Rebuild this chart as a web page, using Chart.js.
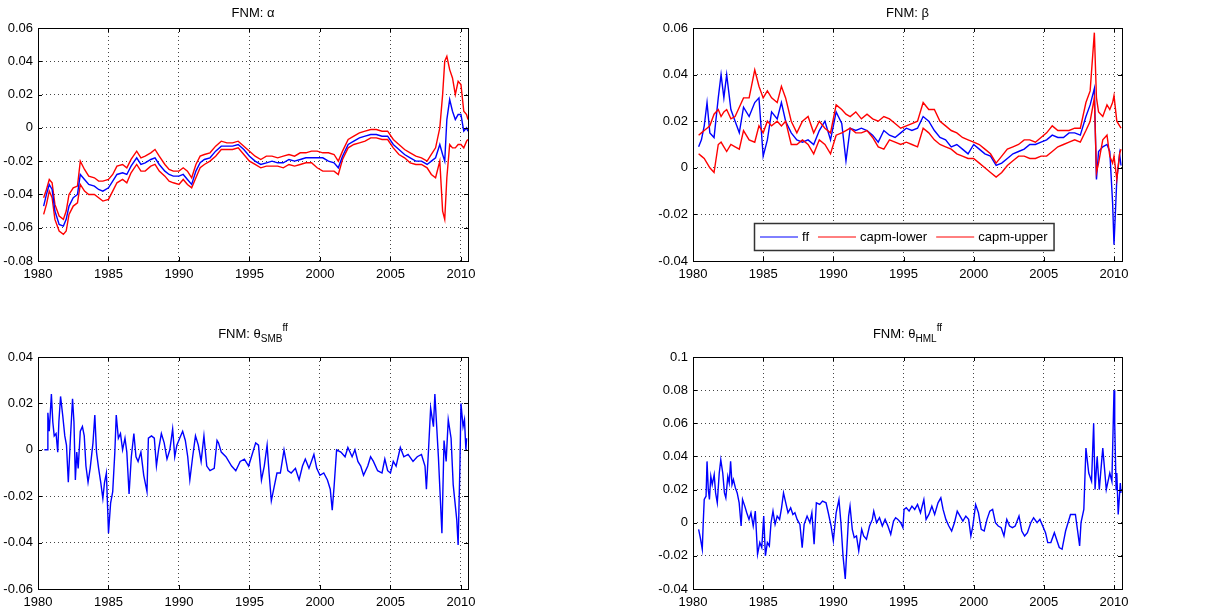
<!DOCTYPE html>
<html>
<head>
<meta charset="utf-8">
<script src="https://cdn.jsdelivr.net/npm/chart.js@4.4.1/dist/chart.umd.min.js"></script>
<style>
  body { margin: 0; background: #fff; }
  #fig { position: relative; width: 1222px; height: 612px; font-family: "Liberation Sans", Arial, sans-serif; }
  #fig canvas { position: absolute; }
  .title { position: absolute; text-align: center; font-size: 13px; line-height: 18px; color: #000; white-space: nowrap; }
  .title sub { font-size: 10px; vertical-align: -4px; line-height: 0; }
  .title sup { font-size: 10px; vertical-align: 7px; line-height: 0; }
</style>
</head>
<body>
<div id="fig">
  <canvas id="cAlpha" width="611" height="300" style="left:0;top:0"></canvas>
  <canvas id="cBeta" width="611" height="300" style="left:611px;top:0"></canvas>
  <canvas id="cSmb" width="611" height="312" style="left:0;top:300px"></canvas>
  <canvas id="cHml" width="611" height="312" style="left:611px;top:300px"></canvas>
  <div class="title" style="left:38px;width:430px;top:4px">FNM: α</div>
  <div class="title" style="left:693px;width:429px;top:4px">FNM: β</div>
  <div class="title" style="left:38px;width:430px;top:325px">FNM: θ<sub>SMB</sub><sup>ff</sup></div>
  <div class="title" style="left:693px;width:429px;top:325px">FNM: θ<sub>HML</sub><sup>ff</sup></div>
</div>
<script>
// x axis ticks shared by all four panels
const xTickValues = [1980, 1985, 1990, 1995, 2000, 2005, 2010];

// FNM: alpha (ff estimate with the capm band)
const alphaDates = [1980.4,1980.6,1980.8,1981.0,1981.2,1981.5,1981.8,1982.0,1982.2,1982.5,
  1982.8,1983.0,1983.3,1983.6,1984.0,1984.3,1984.6,1985.0,1985.3,1985.6,
  1986.0,1986.3,1986.6,1987.0,1987.3,1987.6,1988.0,1988.3,1988.6,1989.0,
  1989.3,1989.6,1990.0,1990.3,1990.6,1990.9,1991.2,1991.5,1991.8,1992.2,
  1992.6,1993.0,1993.4,1993.8,1994.2,1994.6,1995.0,1995.4,1995.8,1996.2,
  1996.6,1997.0,1997.4,1997.8,1998.2,1998.6,1999.0,1999.4,1999.8,2000.2,
  2000.6,2001.0,2001.3,2001.6,2002.0,2002.4,2002.8,2003.2,2003.6,2004.0,
  2004.4,2004.8,2005.2,2005.6,2006.0,2006.4,2006.8,2007.2,2007.6,2007.9,
  2008.2,2008.5,2008.7,2008.85,2009.0,2009.2,2009.4,2009.6,2009.8,2010.0,
  2010.2,2010.4,2010.5];
const alphaMid = [-0.047,-0.040,-0.034,-0.037,-0.050,-0.058,-0.059,-0.055,-0.047,-0.042,
  -0.040,-0.028,-0.031,-0.034,-0.035,-0.037,-0.038,-0.036,-0.032,-0.028,
  -0.027,-0.028,-0.023,-0.018,-0.022,-0.021,-0.019,-0.018,-0.022,-0.026,
  -0.028,-0.029,-0.029,-0.028,-0.031,-0.034,-0.026,-0.021,-0.019,-0.018,
  -0.014,-0.011,-0.011,-0.011,-0.010,-0.013,-0.017,-0.020,-0.022,-0.021,
  -0.020,-0.021,-0.021,-0.019,-0.020,-0.019,-0.018,-0.018,-0.018,-0.018,
  -0.020,-0.021,-0.024,-0.017,-0.010,-0.008,-0.006,-0.005,-0.004,-0.004,
  -0.005,-0.005,-0.010,-0.013,-0.016,-0.018,-0.020,-0.020,-0.022,-0.020,
  -0.018,-0.010,-0.016,-0.020,0.005,0.017,0.010,0.005,0.008,0.008,
  -0.002,0.000,-0.002];
const alphaUpper = [-0.042,-0.037,-0.031,-0.033,-0.046,-0.053,-0.055,-0.050,-0.040,-0.036,
  -0.035,-0.020,-0.025,-0.029,-0.030,-0.032,-0.032,-0.031,-0.028,-0.023,
  -0.022,-0.024,-0.019,-0.014,-0.018,-0.017,-0.015,-0.013,-0.017,-0.022,
  -0.025,-0.026,-0.026,-0.024,-0.026,-0.030,-0.022,-0.017,-0.016,-0.015,
  -0.011,-0.008,-0.009,-0.009,-0.008,-0.011,-0.014,-0.017,-0.019,-0.017,
  -0.017,-0.018,-0.017,-0.016,-0.017,-0.015,-0.015,-0.014,-0.014,-0.015,
  -0.015,-0.016,-0.020,-0.014,-0.007,-0.005,-0.003,-0.002,-0.001,-0.001,
  -0.002,-0.002,-0.007,-0.010,-0.013,-0.015,-0.017,-0.018,-0.020,-0.016,
  -0.012,0.000,0.020,0.040,0.043,0.035,0.030,0.020,0.028,0.026,
  0.010,0.008,0.005];
const alphaLower = [-0.052,-0.046,-0.038,-0.042,-0.055,-0.062,-0.064,-0.062,-0.052,-0.047,
  -0.045,-0.034,-0.038,-0.040,-0.040,-0.042,-0.044,-0.043,-0.038,-0.033,
  -0.031,-0.033,-0.027,-0.022,-0.026,-0.026,-0.023,-0.022,-0.026,-0.029,
  -0.032,-0.033,-0.034,-0.031,-0.034,-0.036,-0.030,-0.024,-0.022,-0.020,
  -0.017,-0.013,-0.013,-0.013,-0.012,-0.016,-0.020,-0.022,-0.024,-0.023,
  -0.023,-0.023,-0.024,-0.022,-0.023,-0.022,-0.021,-0.021,-0.024,-0.026,
  -0.026,-0.026,-0.028,-0.019,-0.012,-0.010,-0.009,-0.008,-0.006,-0.006,
  -0.007,-0.007,-0.012,-0.016,-0.018,-0.021,-0.022,-0.022,-0.024,-0.028,
  -0.030,-0.020,-0.050,-0.055,-0.030,-0.010,-0.012,-0.012,-0.010,-0.010,
  -0.012,-0.008,-0.007];
const alphaTicks = [-0.08, -0.06, -0.04, -0.02, 0, 0.02, 0.04, 0.06];

// FNM: beta
const betaDates = [1980.4,1980.6,1980.8,1981.0,1981.2,1981.5,1981.8,1982.0,1982.2,1982.4,
  1982.7,1983.0,1983.3,1983.6,1984.0,1984.4,1984.7,1985.0,1985.3,1985.6,
  1986.0,1986.3,1986.6,1987.0,1987.4,1987.8,1988.2,1988.6,1989.0,1989.4,
  1989.8,1990.2,1990.6,1990.9,1991.2,1991.6,1992.0,1992.4,1992.8,1993.2,
  1993.6,1994.0,1994.4,1994.8,1995.2,1995.6,1996.0,1996.4,1996.8,1997.2,
  1997.6,1998.0,1998.4,1998.8,1999.2,1999.6,2000.0,2000.4,2000.8,2001.2,
  2001.6,2002.0,2002.4,2002.8,2003.2,2003.6,2004.0,2004.4,2004.8,2005.2,
  2005.6,2006.0,2006.4,2006.8,2007.2,2007.6,2008.0,2008.3,2008.6,2008.75,
  2008.9,2009.2,2009.5,2009.7,2009.9,2010.0,2010.2,2010.4,2010.5];
const betaFF = [0.009,0.012,0.018,0.028,0.015,0.013,0.030,0.040,0.030,0.040,
  0.025,0.020,0.015,0.026,0.022,0.028,0.030,0.005,0.012,0.024,
  0.021,0.028,0.020,0.015,0.012,0.011,0.012,0.010,0.016,0.020,
  0.012,0.024,0.019,0.003,0.017,0.016,0.017,0.016,0.014,0.011,
  0.016,0.014,0.013,0.015,0.017,0.016,0.017,0.022,0.020,0.016,
  0.013,0.012,0.009,0.010,0.008,0.006,0.010,0.008,0.006,0.005,
  0.001,0.002,0.004,0.006,0.007,0.008,0.010,0.010,0.011,0.012,
  0.014,0.013,0.013,0.015,0.015,0.014,0.022,0.027,0.034,-0.005,
  0.007,0.009,0.010,0.007,-0.015,-0.033,-0.005,0.006,0.001];
const betaCapmLower = [0.006,0.005,0.004,0.002,0.000,-0.002,0.010,0.011,0.009,0.007,
  0.010,0.009,0.008,0.016,0.012,0.011,0.018,0.015,0.020,0.018,
  0.020,0.018,0.020,0.010,0.010,0.012,0.010,0.006,0.012,0.010,
  0.006,0.014,0.015,0.016,0.017,0.015,0.015,0.016,0.013,0.009,
  0.008,0.012,0.011,0.010,0.011,0.010,0.009,0.017,0.015,0.012,
  0.010,0.009,0.008,0.006,0.005,0.004,0.004,0.002,0.000,-0.002,
  -0.004,-0.002,0.001,0.003,0.005,0.005,0.004,0.004,0.005,0.005,
  0.007,0.009,0.010,0.011,0.012,0.011,0.016,0.020,0.030,-0.002,
  0.002,0.012,0.014,0.005,0.002,0.005,-0.005,0.006,0.008];
const betaCapmUpper = [0.014,0.015,0.016,0.017,0.018,0.023,0.025,0.022,0.024,0.025,
  0.021,0.022,0.026,0.030,0.030,0.042,0.035,0.030,0.033,0.030,
  0.028,0.035,0.030,0.020,0.015,0.020,0.022,0.015,0.020,0.017,
  0.015,0.027,0.025,0.023,0.022,0.024,0.021,0.023,0.021,0.020,
  0.022,0.021,0.019,0.017,0.018,0.019,0.020,0.028,0.025,0.025,
  0.020,0.018,0.016,0.015,0.013,0.012,0.011,0.010,0.008,0.006,
  0.002,0.005,0.008,0.009,0.010,0.012,0.012,0.011,0.013,0.015,
  0.018,0.016,0.016,0.016,0.017,0.017,0.028,0.033,0.058,0.030,
  0.024,0.022,0.027,0.025,0.028,0.031,0.020,0.018,0.017];
const betaTicks = [-0.04, -0.02, 0, 0.02, 0.04, 0.06];
const betaLabels = ['ff', 'capm-lower', 'capm-upper'];

// FNM: theta SMB
const smbDates = [1980.45,1980.65,1980.7,1980.8,1980.95,1981.05,1981.15,1981.28,1981.4,1981.48,
  1981.6,1981.75,1981.9,1982.02,1982.15,1982.3,1982.45,1982.55,1982.65,1982.75,
  1982.85,1983.0,1983.15,1983.28,1983.4,1983.55,1983.7,1983.9,1984.03,1984.15,
  1984.3,1984.45,1984.6,1984.72,1984.85,1984.95,1985.0,1985.15,1985.3,1985.45,
  1985.55,1985.7,1985.85,1986.0,1986.17,1986.3,1986.46,1986.62,1986.8,1986.95,
  1987.1,1987.3,1987.5,1987.73,1987.83,1988.05,1988.25,1988.4,1988.55,1988.75,
  1988.95,1989.15,1989.35,1989.55,1989.7,1989.85,1990.05,1990.26,1990.45,1990.62,
  1990.77,1990.97,1991.17,1991.37,1991.57,1991.77,1991.97,1992.2,1992.5,1992.7,
  1992.8,1993.0,1993.33,1993.73,1994.03,1994.34,1994.64,1994.94,1995.14,1995.44,
  1995.64,1995.85,1996.05,1996.25,1996.39,1996.55,1996.75,1996.95,1997.19,1997.45,
  1997.72,1997.96,1998.26,1998.52,1998.76,1998.96,1999.22,1999.57,1999.77,2000.0,
  2000.27,2000.53,2000.73,2000.87,2001.0,2001.18,2001.48,2001.78,2001.98,2002.28,
  2002.48,2002.69,2002.89,2003.09,2003.39,2003.59,2003.79,2004.09,2004.4,2004.6,
  2004.8,2005.0,2005.2,2005.4,2005.7,2005.95,2006.25,2006.6,2006.9,2007.2,
  2007.45,2007.55,2007.7,2007.85,2008.05,2008.15,2008.4,2008.65,2008.8,2008.95,
  2009.1,2009.3,2009.45,2009.7,2009.8,2009.93,2010.0,2010.15,2010.25,2010.35,
  2010.4];
const smbValues = [0.000,0.000,0.016,0.008,0.024,0.012,0.006,0.007,-0.001,0.012,
  0.023,0.015,0.006,0.002,-0.014,0.005,0.022,0.012,-0.013,-0.001,
  -0.008,0.008,0.010,0.006,-0.007,-0.014,-0.008,0.003,0.015,-0.001,
  -0.008,-0.014,-0.021,-0.014,-0.010,-0.027,-0.036,-0.023,-0.018,-0.001,
  0.015,0.005,0.007,0.000,0.005,-0.001,-0.019,-0.003,0.007,-0.003,
  -0.005,-0.001,-0.011,-0.018,0.005,0.006,0.005,-0.007,0.000,0.007,
  0.003,-0.004,0.000,0.009,-0.003,0.002,0.005,0.008,0.004,-0.003,
  -0.013,-0.003,0.006,0.002,-0.005,0.006,-0.007,-0.009,-0.008,0.004,
  0.003,-0.001,-0.003,-0.007,-0.009,-0.005,-0.004,-0.007,-0.003,0.003,
  0.002,-0.013,-0.007,0.002,-0.010,-0.022,-0.016,-0.010,-0.010,0.000,
  -0.009,-0.010,-0.008,-0.013,-0.007,-0.004,-0.008,-0.002,-0.008,-0.011,
  -0.010,-0.013,-0.017,-0.026,-0.016,0.000,-0.001,-0.003,0.001,-0.003,
  0.000,-0.005,-0.007,-0.011,-0.007,-0.003,-0.005,-0.009,-0.010,-0.004,
  -0.009,-0.010,-0.005,-0.007,0.001,-0.003,-0.002,-0.005,-0.003,-0.002,
  -0.007,-0.017,0.000,0.018,0.010,0.024,-0.003,-0.036,0.004,-0.005,
  0.013,0.005,-0.015,-0.030,-0.041,-0.006,0.020,0.010,0.013,0.000,
  0.005];
const smbTicks = [-0.06, -0.04, -0.02, 0, 0.02, 0.04];

// FNM: theta HML
const hmlDates = [1980.4,1980.52,1980.66,1980.73,1980.8,1980.93,1981.0,1981.09,1981.17,1981.27,
  1981.37,1981.51,1981.61,1981.73,1981.87,1981.98,1982.12,1982.24,1982.34,1982.48,
  1982.58,1982.68,1982.78,1982.88,1983.02,1983.15,1983.29,1983.43,1983.53,1983.69,
  1983.83,1983.99,1984.13,1984.29,1984.44,1984.6,1984.76,1984.9,1985.04,1985.16,
  1985.3,1985.44,1985.56,1985.7,1985.85,1986.0,1986.17,1986.31,1986.45,1986.61,
  1986.77,1986.96,1987.12,1987.26,1987.42,1987.62,1987.78,1987.92,1988.13,1988.33,
  1988.47,1988.63,1988.79,1989.03,1989.23,1989.48,1989.64,1989.84,1990.0,1990.2,
  1990.4,1990.54,1990.69,1990.85,1990.95,1991.09,1991.19,1991.35,1991.49,1991.65,
  1991.81,1992.02,1992.16,1992.36,1992.58,1992.78,1992.88,1993.08,1993.29,1993.49,
  1993.69,1993.89,1994.09,1994.29,1994.44,1994.6,1994.8,1994.96,1995.04,1995.2,
  1995.4,1995.6,1995.8,1996.0,1996.21,1996.45,1996.61,1996.81,1997.02,1997.22,
  1997.46,1997.66,1997.82,1998.02,1998.23,1998.43,1998.63,1998.83,1999.03,1999.23,
  1999.44,1999.64,1999.8,1999.94,2000.14,2000.34,2000.54,2000.75,2000.95,2001.15,
  2001.35,2001.55,2001.75,2001.96,2002.16,2002.36,2002.56,2002.76,2002.96,2003.23,
  2003.43,2003.63,2003.83,2004.07,2004.27,2004.52,2004.72,2004.92,2005.12,2005.28,
  2005.5,2005.75,2006.1,2006.3,2006.55,2006.9,2007.25,2007.55,2007.65,2007.85,
  2008.0,2008.2,2008.4,2008.55,2008.65,2008.8,2008.95,2009.2,2009.45,2009.7,
  2009.85,2010.0,2010.05,2010.15,2010.2,2010.3,2010.45,2010.5];
const hmlValues = [-0.004,-0.009,-0.016,0.000,0.014,0.016,0.037,0.020,0.014,0.028,
  0.023,0.029,0.018,0.012,0.030,0.038,0.030,0.018,0.015,0.028,
  0.024,0.037,0.023,0.026,0.021,0.018,0.012,-0.002,0.014,0.010,
  0.006,0.002,0.006,-0.002,0.007,-0.019,-0.012,-0.015,0.004,-0.020,
  -0.012,-0.014,0.000,0.007,-0.001,0.004,0.002,0.009,0.018,0.012,
  0.006,0.009,0.005,0.006,0.002,-0.001,-0.015,-0.001,0.004,0.000,
  0.006,-0.013,0.012,0.011,0.013,0.012,0.006,-0.002,-0.011,0.006,
  0.014,0.000,-0.020,-0.034,-0.018,0.004,0.010,-0.004,-0.009,-0.008,
  -0.017,-0.004,-0.008,-0.010,-0.002,0.002,0.007,0.000,0.003,-0.002,
  0.002,-0.002,-0.007,0.001,0.003,0.002,0.000,-0.003,0.008,0.009,
  0.007,0.010,0.008,0.011,0.006,0.014,0.002,0.005,0.010,0.005,
  0.012,0.015,0.008,0.002,-0.002,-0.005,0.000,0.007,0.004,0.001,
  0.004,0.002,-0.008,-0.002,0.011,0.006,-0.004,-0.005,0.002,0.007,
  0.008,0.000,-0.002,-0.003,-0.008,0.002,-0.002,-0.003,-0.002,0.004,
  -0.005,-0.008,-0.006,0.000,0.003,0.000,0.002,-0.002,-0.006,-0.012,
  -0.012,-0.006,-0.015,-0.016,-0.005,0.005,0.005,-0.014,0.000,0.008,
  0.045,0.030,0.025,0.060,0.020,0.040,0.020,0.045,0.020,0.030,
  0.025,0.080,0.060,0.020,0.030,0.005,0.024,0.018];
const hmlTicks = [-0.04, -0.02, 0, 0.02, 0.04, 0.06, 0.08, 0.1];

const BLUE = '#0000ff';
const RED = '#ff0000';
const FONT = { family: '"Liberation Sans", Arial, sans-serif', size: 13 };

function points(dates, values) {
  return dates.map((x, i) => ({ x: x, y: values[i] }));
}

function tickText(v) {
  const n = parseFloat(Number(v).toFixed(2));
  return n === 0 ? '0' : String(n);
}

// box round the axes and small inward tick marks, matlab style
const matlabAxes = {
  id: 'matlabAxes',
  afterDatasetsDraw(chart) {
    const { ctx, chartArea: a, scales: { x, y } } = chart;
    ctx.save();
    ctx.strokeStyle = '#000';
    ctx.lineWidth = 1;
    ctx.setLineDash([]);
    ctx.beginPath();
    x.ticks.forEach(t => {
      const px = Math.round(x.getPixelForValue(t.value)) + 0.5;
      ctx.moveTo(px, a.bottom); ctx.lineTo(px, a.bottom - 4);
      ctx.moveTo(px, a.top); ctx.lineTo(px, a.top + 4);
    });
    y.ticks.forEach(t => {
      const py = Math.round(y.getPixelForValue(t.value)) + 0.5;
      ctx.moveTo(a.left, py); ctx.lineTo(a.left + 4, py);
      ctx.moveTo(a.right, py); ctx.lineTo(a.right - 4, py);
    });
    ctx.stroke();
    ctx.strokeRect(Math.round(a.left) + 0.5, Math.round(a.top) + 0.5, Math.round(a.width), Math.round(a.height));
    ctx.restore();
  }
};

// legend box at the bottom of the beta axes
const betaLegend = {
  id: 'betaLegend',
  afterDraw(chart) {
    const { ctx, chartArea: a } = chart;
    const lineLen = 38, gapLine = 4, gapItem = 9, padX = 6, h = 27;
    ctx.save();
    ctx.font = '13px "Liberation Sans", Arial, sans-serif';
    const items = chart.data.datasets.map(ds => ({ label: ds.label, color: ds.borderColor, w: ctx.measureText(ds.label).width }));
    let total = padX * 2;
    items.forEach((it, i) => { total += lineLen + gapLine + it.w + (i < items.length - 1 ? gapItem : 0); });
    const left = Math.round((a.left + a.right) / 2 - total / 2) - 4;
    const bottom = a.bottom - 11;
    const top = bottom - h;
    ctx.fillStyle = '#fff';
    ctx.fillRect(left, top, total, h);
    ctx.strokeStyle = '#333';
    ctx.lineWidth = 1.5;
    ctx.strokeRect(left + 0.5, top + 0.5, total, h);
    let cx = left + padX;
    const cy = top + h / 2 + 0.5;
    ctx.textBaseline = 'middle';
    items.forEach(it => {
      ctx.strokeStyle = it.color;
      ctx.lineWidth = 1;
      ctx.beginPath();
      ctx.moveTo(cx, cy); ctx.lineTo(cx + lineLen, cy);
      ctx.stroke();
      cx += lineLen + gapLine;
      ctx.fillStyle = '#000';
      ctx.fillText(it.label, cx, cy);
      cx += it.w + gapItem;
    });
    ctx.restore();
  }
};

function makePanel(id, area, yTicks, datasets, extra) {
  const canvas = document.getElementById(id);
  return new Chart(canvas, {
    type: 'line',
    data: { datasets: datasets },
    options: {
      responsive: false,
      animation: false,
      events: [],
      layout: {
        autoPadding: false,
        padding: { left: 0, top: area.top, right: canvas.width - area.right, bottom: 0 }
      },
      plugins: { legend: { display: false }, title: { display: false }, tooltip: { enabled: false } },
      elements: { point: { radius: 0 }, line: { borderWidth: 1.4, tension: 0 } },
      scales: {
        x: {
          type: 'linear',
          min: 1980,
          max: area.xMax,
          afterBuildTicks: s => { s.ticks = xTickValues.map(v => ({ value: v })); },
          afterFit: s => { s.height = canvas.height - area.bottom; },
          grid: { color: '#444', lineWidth: 1, drawTicks: false },
          border: { display: false, dash: [1, 3] },
          ticks: { color: '#000', font: FONT, padding: 6, maxRotation: 0, callback: v => String(v) }
        },
        y: {
          type: 'linear',
          min: yTicks[0],
          max: yTicks[yTicks.length - 1],
          afterBuildTicks: s => { s.ticks = yTicks.map(v => ({ value: v })); },
          afterFit: s => { s.width = area.left; },
          grid: { color: '#444', lineWidth: 1, drawTicks: false },
          border: { display: false, dash: [1, 3] },
          ticks: { color: '#000', font: FONT, padding: 5, callback: tickText }
        }
      }
    },
    plugins: [matlabAxes].concat(extra || [])
  });
}

makePanel('cAlpha', { left: 38, right: 468, top: 28, bottom: 261, xMax: 2010.5 }, alphaTicks, [
  { label: 'ff', data: points(alphaDates, alphaMid), borderColor: BLUE, order: 1 },
  { label: 'capm-lower', data: points(alphaDates, alphaLower), borderColor: RED, order: 2 },
  { label: 'capm-upper', data: points(alphaDates, alphaUpper), borderColor: RED, order: 2 }
]);

makePanel('cBeta', { left: 82, right: 511, top: 28, bottom: 261, xMax: 2010.57 }, betaTicks, [
  { label: betaLabels[0], data: points(betaDates, betaFF), borderColor: BLUE, order: 2 },
  { label: betaLabels[1], data: points(betaDates, betaCapmLower), borderColor: RED, order: 1 },
  { label: betaLabels[2], data: points(betaDates, betaCapmUpper), borderColor: RED, order: 1 }
], [betaLegend]);

makePanel('cSmb', { left: 38, right: 468, top: 57, bottom: 289, xMax: 2010.5 }, smbTicks, [
  { label: 'ff', data: points(smbDates, smbValues), borderColor: BLUE }
]);

makePanel('cHml', { left: 82, right: 511, top: 57, bottom: 289, xMax: 2010.57 }, hmlTicks, [
  { label: 'ff', data: points(hmlDates, hmlValues), borderColor: BLUE }
]);
</script>
</body>
</html>
